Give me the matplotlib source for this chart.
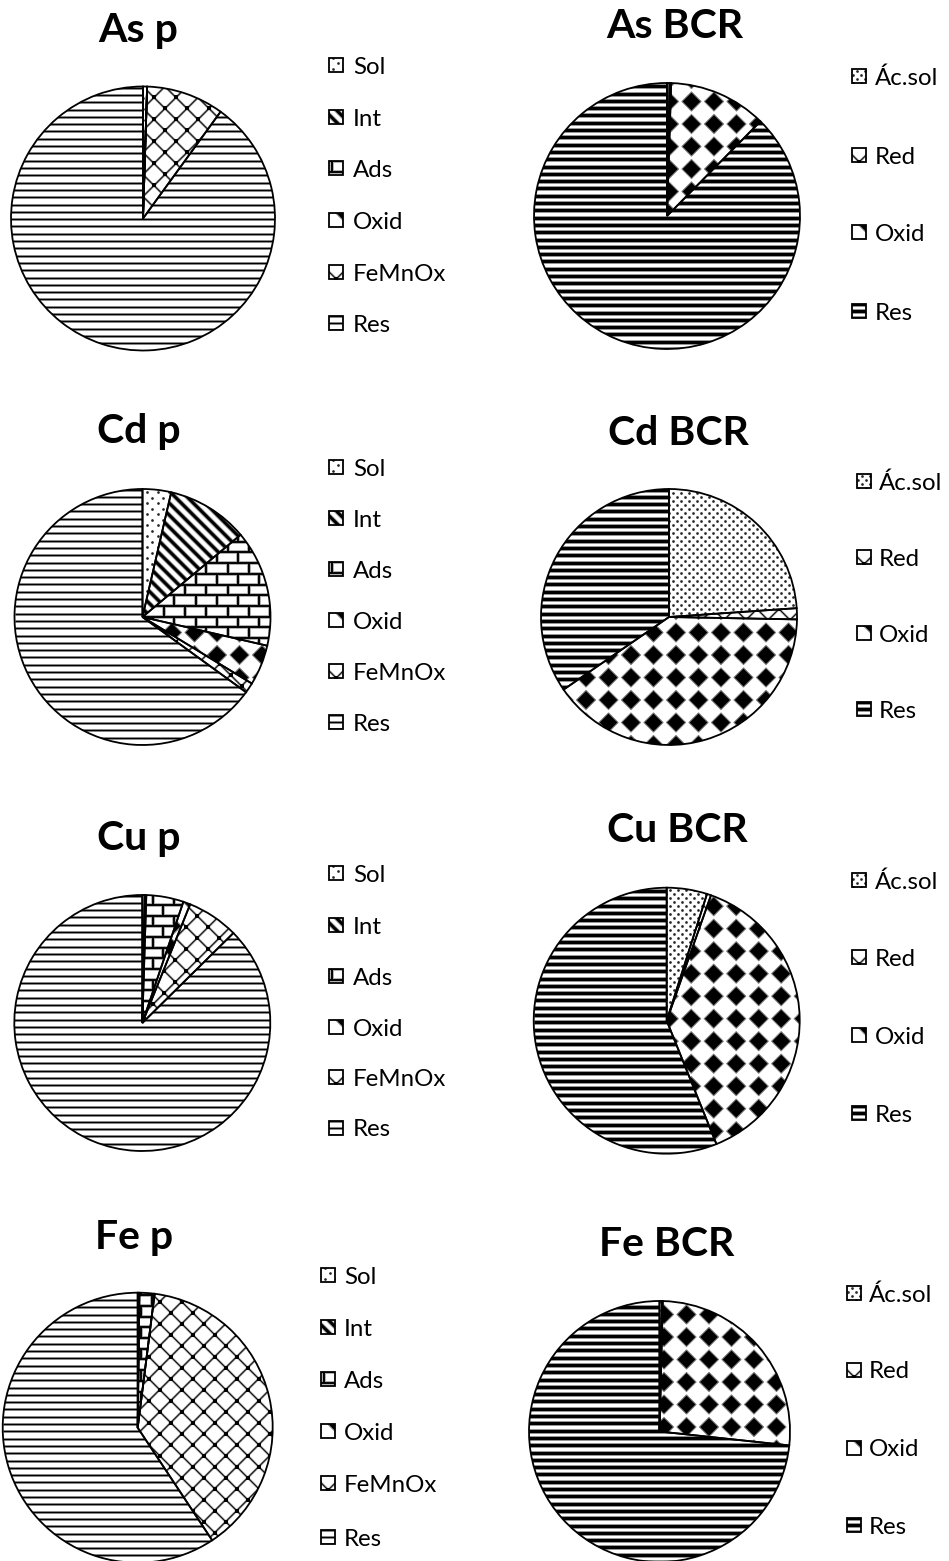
import numpy as np
import matplotlib
matplotlib.use('Agg')
import matplotlib.pyplot as plt
from matplotlib.collections import LineCollection, PolyCollection
from matplotlib.patches import Rectangle

plt.rcParams['font.family'] = ['Lato', 'DejaVu Sans']

# fractions (%) for the sequential extraction (p) and the BCR scheme
p_labels = ['Sol', 'Int', 'Ads', 'Oxid', 'FeMnOx', 'Res']
bcr_labels = ['Ác.sol', 'Red', 'Oxid', 'Res']

as_p = [0.5, 0.0, 0.0, 0.0, 9.5, 90.0]
as_bcr = [0.3, 0.2, 11.9, 87.6]
cd_p = [3.6, 10.3, 14.7, 5.1, 1.3, 65.0]
cd_bcr = [23.9, 1.4, 40.1, 34.6]
cu_p = [0.3, 0.2, 4.7, 0.9, 6.5, 87.4]
cu_bcr = [4.9, 0.5, 38.5, 56.1]
fe_p = [0.2, 0.0, 1.8, 0.0, 38.7, 59.3]
fe_bcr = [0.3, 0.1, 26.3, 73.3]

p_fills = ['dots_sparse', 'diag', 'brick', 'diamonds', 'lattice', 'hthin']
bcr_fills = ['dots', 'lattice', 'diamonds', 'hwide']

W, H = 949, 1561
PT = 0.72  # points per pixel at dpi=100

# title, values, scheme, (cx, cy, r), (title x, title baseline), (box x, text x, row centres)
panels = [
    ('As p', as_p, 'p', (143, 218.5, 132), (138, 41.7),
     (329, 353, [65, 117, 168, 220, 272, 323])),
    ('As BCR', as_bcr, 'bcr', (667, 216, 133), (675, 38.3),
     (852, 875, [76, 155, 232, 311])),
    ('Cd p', cd_p, 'p', (142.5, 617, 128), (139, 443.3),
     (329, 353, [467, 518, 569, 620, 671, 722])),
    ('Cd BCR', cd_bcr, 'bcr', (669, 617, 128), (678, 445),
     (857, 879, [481, 557, 633, 709])),
    ('Cu p', cu_p, 'p', (142.3, 1023, 128), (139, 850),
     (329, 353, [873, 925, 976, 1027, 1077, 1128])),
    ('Cu BCR', cu_bcr, 'bcr', (666.7, 1020.7, 133), (677, 841.7),
     (852, 875, [880, 957, 1035, 1113])),
    ('Fe p', fe_p, 'p', (137.7, 1427.7, 135), (134, 1249.3),
     (321, 344, [1275, 1327, 1379, 1431, 1483, 1537])),
    ('Fe BCR', fe_bcr, 'bcr', (659.5, 1431.5, 130.5), (667, 1256),
     (847, 869, [1293, 1370, 1448, 1525])),
]


def clipped(ax, coll, clip):
    # add_collection resets the clip to the axes patch, so clip afterwards
    ax.add_collection(coll)
    coll.set_clip_path(clip)


def add_lines(ax, segs, clip, width, halo):
    for col, lw in (('0.62', halo), ('black', width)):
        if lw:
            clipped(ax, LineCollection(segs, colors=col, linewidths=lw * PT, zorder=2), clip)


def fill_pattern(ax, clip, kind, u, cx=0.0, cy=0.0, r=1.0):
    # u = data units per pixel, pattern drawn over the square around (cx, cy)
    x0, x1, y0, y1 = cx - r, cx + r, cy - r, cy + r
    if kind in ('hthin', 'hwide'):
        ys = np.arange(y0, y1, 7.3 * u)
        segs = [[(x0, y), (x1, y)] for y in ys]
        if kind == 'hthin':
            add_lines(ax, segs, clip, 1.3, 3.0)
        else:
            add_lines(ax, segs, clip, 3.2, 4.8)
    elif kind == 'diag':
        cs = np.arange(-2 * r, 2 * r, 8.5 * np.sqrt(2) * u)
        segs = [[(x0, cy + r + c), (x1, cy - r + c)] for c in cs]
        add_lines(ax, segs, clip, 3.0, 4.8)
    elif kind == 'lattice':
        p = 22 * u
        cs = np.arange(-2 * r, 2 * r + p, p)
        up = [[(x0, cy - r + c), (x1, cy + r + c)] for c in cs]
        dn = [[(x0, cy + r + c), (x1, cy - r + c)] for c in cs]
        add_lines(ax, up + dn, clip, 0.9, 2.4)
        c1, c2 = np.meshgrid(cs, cs)
        xs = cx + (c2 - c1) / 2
        ys = cy + (c1 + c2) / 2
        sc = ax.scatter(xs.ravel(), ys.ravel(), s=(3.4 * PT) ** 2, marker='s',
                        c='black', linewidths=0, zorder=2)
        sc.set_clip_path(clip)
    elif kind == 'diamonds':
        p, h = 22.5 * u, 9.6 * u
        g = np.arange(-r - p, r + p, p)
        polys = []
        for gx in g:
            for gy in g:
                x, y = cx + gx, cy + gy
                polys.append([(x - h, y), (x, y + h), (x + h, y), (x, y - h)])
        clipped(ax, PolyCollection(polys, facecolors='black', edgecolors='0.5',
                                   linewidths=1.0 * PT, zorder=2), clip)
    elif kind in ('dots', 'dots_sparse'):
        p = (11.0 if kind == 'dots_sparse' else 8.0) * u
        xs, ys = [], []
        for j, y in enumerate(np.arange(y0, y1, p / 2)):
            row = np.arange(x0 + (j % 2) * p / 2, x1, p)
            xs.extend(row)
            ys.extend([y] * len(row))
        sc = ax.scatter(xs, ys, s=(2.7 * PT) ** 2, marker='o', c='0.15',
                        linewidths=0, zorder=2)
        sc.set_clip_path(clip)
    elif kind == 'brick':
        rh, bl = 10.7 * u, 21.3 * u
        rows = np.arange(y0, y1 + rh, rh)
        segs = [[(x0, y), (x1, y)] for y in rows]
        for j, y in enumerate(rows[:-1]):
            for x in np.arange(x0 - bl + (j % 2) * bl / 2, x1 + bl, bl):
                segs.append([(x, y), (x, y + rh)])
        add_lines(ax, segs, clip, 1.9, 3.6)


fig = plt.figure(figsize=(W / 100, H / 100), dpi=100)
canvas = fig.add_axes([0, 0, 1, 1])
canvas.set_xlim(0, W)
canvas.set_ylim(0, H)

pad = 1.04
for title, vals, scheme, (cx, cy, R), (tx, ty), (bx, lx, rows) in panels:
    labels = p_labels if scheme == 'p' else bcr_labels
    fills = p_fills if scheme == 'p' else bcr_fills

    ax = fig.add_axes([(cx - pad * R) / W, (H - cy - pad * R) / H,
                       2 * pad * R / W, 2 * pad * R / H])
    wedges, _ = ax.pie(vals, startangle=90, counterclock=False,
                       colors=['white'] * len(vals), wedgeprops=dict(linewidth=0))
    for w, kind in zip(wedges, fills):
        fill_pattern(ax, w, kind, 1.0 / R)
    ax.pie(vals, startangle=90, counterclock=False,
           wedgeprops=dict(fill=False, edgecolor='black', linewidth=1.3, zorder=3))
    ax.set_xlim(-pad, pad)
    ax.set_ylim(-pad, pad)
    ax.set_aspect('equal')
    ax.axis('off')

    canvas.text(tx, H - ty, title, ha='center', va='baseline',
                fontsize=29.5, fontweight='bold')

    s = 14.5
    for lab, kind, yc in zip(labels, fills, rows):
        box = Rectangle((bx, H - yc - s / 2), s, s, facecolor='white',
                        edgecolor='none', zorder=1)
        canvas.add_patch(box)
        fill_pattern(canvas, box, kind, 1.0, cx=bx + s / 2, cy=H - yc, r=s)
        canvas.add_patch(Rectangle((bx, H - yc - s / 2), s, s, fill=False,
                                   edgecolor='black', linewidth=1.3, zorder=3))
        canvas.text(lx, H - yc - 8.5, lab, ha='left', va='baseline', fontsize=17.3)

canvas.set_xlim(0, W)
canvas.set_ylim(0, H)
canvas.axis('off')

fig.savefig('out.png', dpi=100, facecolor='white')
